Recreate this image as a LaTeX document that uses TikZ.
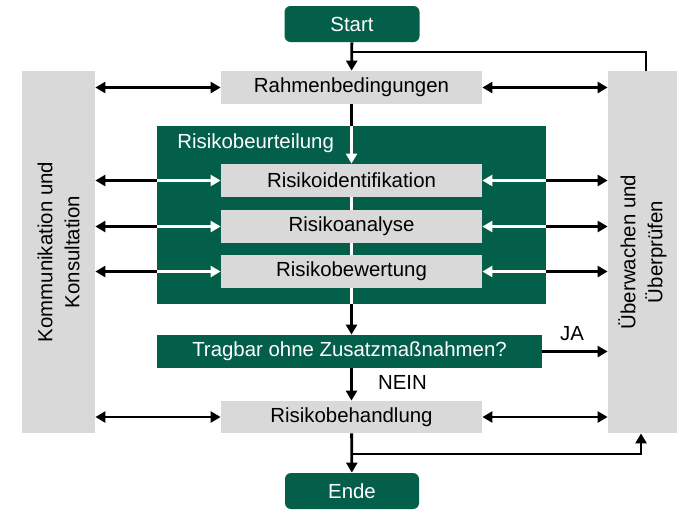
\documentclass[tikz,border=0pt]{standalone}
\usepackage{fontspec}
\setmainfont{Liberation Sans}
\usetikzlibrary{arrows.meta}
\definecolor{dunkelgruen}{RGB}{3,94,74}
\definecolor{hellgrau}{RGB}{217,217,217}
\tikzset{
  schrift/.style={font=\fontsize{10.2}{13.5}\selectfont},
  grau/.style={schrift, fill=hellgrau, text=black, inner sep=0pt},
  gruen/.style={schrift, fill=dunkelgruen, text=white, inner sep=0pt},
  rund/.style={gruen, rounded corners=3pt},
  linie/.style={line width=1.4pt},
  pfeil/.style={linie, -{Triangle[length=5pt,width=5.5pt]}},
  rpfeil/.style={linie, {Triangle[length=5pt,width=5.5pt]}-},
  doppel/.style={linie, {Triangle[length=5pt,width=5.5pt]}-{Triangle[length=5pt,width=5.5pt]}},
}
\begin{document}
\begin{tikzpicture}[x=0.5pt,y=-0.5pt]
  \useasboundingbox (0,0) rectangle (678,509);
  \node[rund, minimum width=67.5pt, minimum height=18pt] (start) at (352,24) {Start};
  \node[rund, minimum width=67pt, minimum height=18pt] (ende) at (352,491) {Ende};
  %%
  \node[grau, minimum width=36.5pt, minimum height=181pt] (komm) at (58.5,252) {};
  \node[schrift, rotate=90, align=center] (komm-text) at (komm.center) {Kommunikation und\\Konsultation};
  \node[grau, minimum width=34.5pt, minimum height=181pt] (ueber) at (642.5,252) {};
  \node[schrift, rotate=90, align=center] (ueber-text) at (ueber.center) {Überwachen und\\Überprüfen};
  %%
  \node[gruen, minimum width=194.5pt, minimum height=89pt] (beurteilung) at (351.5,215) {};
  \node[schrift, text=white, anchor=west, inner sep=0pt] (beurteilung-text) at (177,143) {Risikobeurteilung};
  \node[grau, minimum width=130.5pt, minimum height=16.5pt] (rahmen) at (351.5,87.5) {Rahmenbedingungen};
  \node[grau, minimum width=130.5pt, minimum height=16.5pt] (ident) at (351.5,180.5) {Risikoidentifikation};
  \node[grau, minimum width=130.5pt, minimum height=16.5pt] (analyse) at (351.5,226.5) {Risikoanalyse};
  \node[grau, minimum width=130.5pt, minimum height=16.5pt] (bewertung) at (351.5,271.5) {Risikobewertung};
  \node[gruen, minimum width=192.5pt, minimum height=16.5pt] (tragbar) at (349.5,351.5) {Tragbar ohne Zusatzmaßnahmen?};
  \node[grau, minimum width=130.5pt, minimum height=16pt] (behandlung) at (351.5,417) {Risikobehandlung};
  %%
  \coordinate (ecke-oben) at (646,52);
  \coordinate (abzweig) at (641,454);
  \draw[pfeil] (start) -- (rahmen);
  \draw[linie] (ueber.north -| ecke-oben) |- (start.south |- ecke-oben);
  \draw[linie] (rahmen.south) -- (rahmen.south |- beurteilung.north);
  \draw[pfeil, white] (rahmen.south |- beurteilung.north) -- (ident.north);
  \draw[linie, white] (ident) -- (analyse);
  \draw[linie, white] (analyse) -- (bewertung);
  \draw[linie, white] (bewertung.south) -- (bewertung.south |- beurteilung.south);
  \draw[pfeil] (bewertung.south |- beurteilung.south) -- (bewertung.south |- tragbar.north);
  \draw[pfeil] (bewertung.south |- tragbar.south) -- (bewertung.south |- behandlung.north);
  \draw[pfeil] (tragbar.east) -- (ueber.west |- tragbar);
  \draw[pfeil] (behandlung) -- (ende);
  \draw[pfeil] (behandlung.south |- abzweig) -| (ueber.south -| abzweig);
  \node[schrift, anchor=base] (ja) at (572,340) {JA};
  \node[schrift, anchor=base west] (nein) at (371,389) {NEIN};
  %%
  \draw[doppel] (komm.east |- rahmen) -- (rahmen.west);
  \draw[doppel] (rahmen.east) -- (ueber.west |- rahmen);
  \draw[doppel] (komm.east |- behandlung) -- (behandlung.west);
  \draw[doppel] (behandlung.east) -- (ueber.west |- behandlung);
  \draw[rpfeil] (komm.east |- ident) -- (beurteilung.west |- ident);
  \draw[pfeil, white] (beurteilung.west |- ident) -- (ident.west);
  \draw[rpfeil] (komm.east |- analyse) -- (beurteilung.west |- analyse);
  \draw[pfeil, white] (beurteilung.west |- analyse) -- (analyse.west);
  \draw[rpfeil] (komm.east |- bewertung) -- (beurteilung.west |- bewertung);
  \draw[pfeil, white] (beurteilung.west |- bewertung) -- (bewertung.west);
  \draw[rpfeil, white] (ident.east) -- (beurteilung.east |- ident);
  \draw[pfeil] (beurteilung.east |- ident) -- (ueber.west |- ident);
  \draw[rpfeil, white] (analyse.east) -- (beurteilung.east |- analyse);
  \draw[pfeil] (beurteilung.east |- analyse) -- (ueber.west |- analyse);
  \draw[rpfeil, white] (bewertung.east) -- (beurteilung.east |- bewertung);
  \draw[pfeil] (beurteilung.east |- bewertung) -- (ueber.west |- bewertung);
\end{tikzpicture}
\end{document}
